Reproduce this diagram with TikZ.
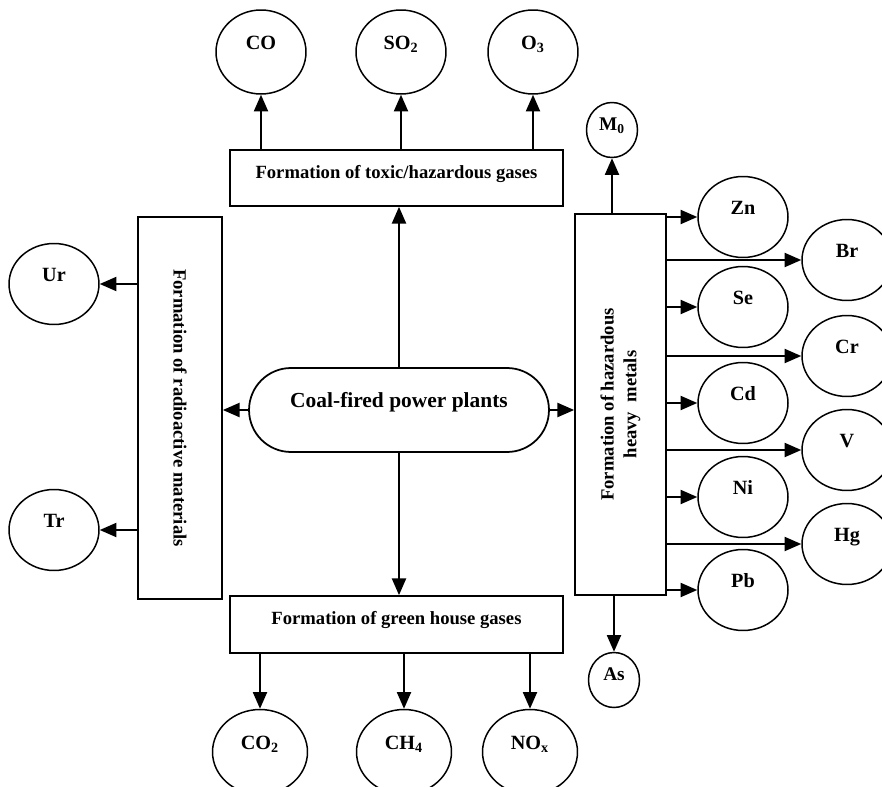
\documentclass[tikz,border=0pt]{standalone}
\usepackage{fontspec}
\setmainfont{Liberation Serif}
\usetikzlibrary{arrows.meta,shapes.geometric,calc}

\tikzset{
  arr/.style={draw, line width=1.1pt, -{Triangle[length=9.5pt,width=8pt]}},
  blob/.style={ellipse, draw, line width=0.85pt, inner sep=0pt, minimum width=1.8cm, minimum height=1.62cm, font=\fontsize{11.5}{14}\selectfont\bfseries, text height=7.5pt, text depth=10.5pt},
  small blob/.style={blob, minimum width=1.02cm, minimum height=1.1cm, font=\fontsize{11}{13}\selectfont\bfseries, text depth=6.5pt},
  formbox/.style={draw, line width=1pt, inner sep=0pt, font=\fontsize{10.6}{13}\selectfont\bfseries},
}

\begin{document}
\begin{tikzpicture}[x=0.02cm, y=-0.02cm]
        \useasboundingbox (0,0) rectangle (882,787);
        % source
        \node[formbox, rounded corners=0.84cm, minimum width=6cm, minimum height=1.68cm, font=\fontsize{12.2}{14}\selectfont\bfseries, text height=9pt, text depth=12pt](cpp)at(399,410){Coal-fired power plants};
        % formation boxes
        \node[formbox, minimum width=6.66cm, minimum height=1.12cm, text height=7pt, text depth=6pt](toxic)at(396.5,178){Formation of toxic/hazardous gases};
        \node[formbox, minimum width=6.66cm, minimum height=1.14cm, text height=7pt, text depth=7pt](green)at(396.5,624.5){Formation of green house gases};
        \node[formbox, minimum width=1.68cm, minimum height=7.64cm](radio)at(180,408){\rotatebox{-90}{Formation of radioactive materials}};
        \node[formbox, minimum width=1.82cm, minimum height=7.62cm](metals)at(620.5,404.5){\rotatebox{90}{\begin{tabular}{@{}c@{}}Formation of hazardous\\heavy\ \ metals\end{tabular}}};
        % from the plants
        \path[arr](cpp.north)to(cpp.north |- toxic.south);
        \path[arr](cpp.south)to(cpp.south |- green.north);
        \path[arr](cpp.west)to(cpp.west -| radio.east);
        \path[arr](cpp.east)to(cpp.east -| metals.west);
        % toxic gases
        \foreach \name/\txt/\x in {co/CO/261, so/SO\textsubscript{2}/401, oz/O\textsubscript{3}/533}
        {
            \node[blob, minimum height=1.68cm](\name)at(\x,52){\txt};
            \path[arr](toxic.north -| \name)to(\name);
        }
        % green house gases
        \foreach \name/\txt/\x in {cod/CO\textsubscript{2}/260, ch/CH\textsubscript{4}/404, nox/NO\textsubscript{x}/530}
        {
            \node[blob, minimum width=1.9cm, minimum height=1.7cm](\name)at(\x,752){\txt};
            \path[arr](green.south -| \name)to(\name);
        }
        % radioactive materials
        \foreach \name/\txt/\y in {ur/Ur/284, tr/Tr/530}
        {
            \node[blob](\name)at(54,\y){\txt};
            \path[arr](radio.west |- \name)to(\name);
        }
        % heavy metals
        \node[small blob](mo)at(612,130){M\textsubscript{0}};
        \node[small blob](as)at(614,680){As};
        \path[arr](metals.north -| mo)to(mo);
        \path[arr](metals.south -| as)to(as);
        \foreach \name/\txt/\y in {zn/Zn/217, se/Se/307, cd/Cd/403, ni/Ni/497, pb/Pb/590}
        {
            \node[blob](\name)at(743,\y){\txt};
            \path[arr](metals.east |- \name)to(\name);
        }
        \foreach \name/\txt/\y in {br/Br/260, cr/Cr/356, va/V/450, hg/Hg/544}
        {
            \node[blob](\name)at(847,\y){\txt};
            \path[arr](metals.east |- \name.west)to(\name.west);
        }
    \end{tikzpicture}
\end{document}
